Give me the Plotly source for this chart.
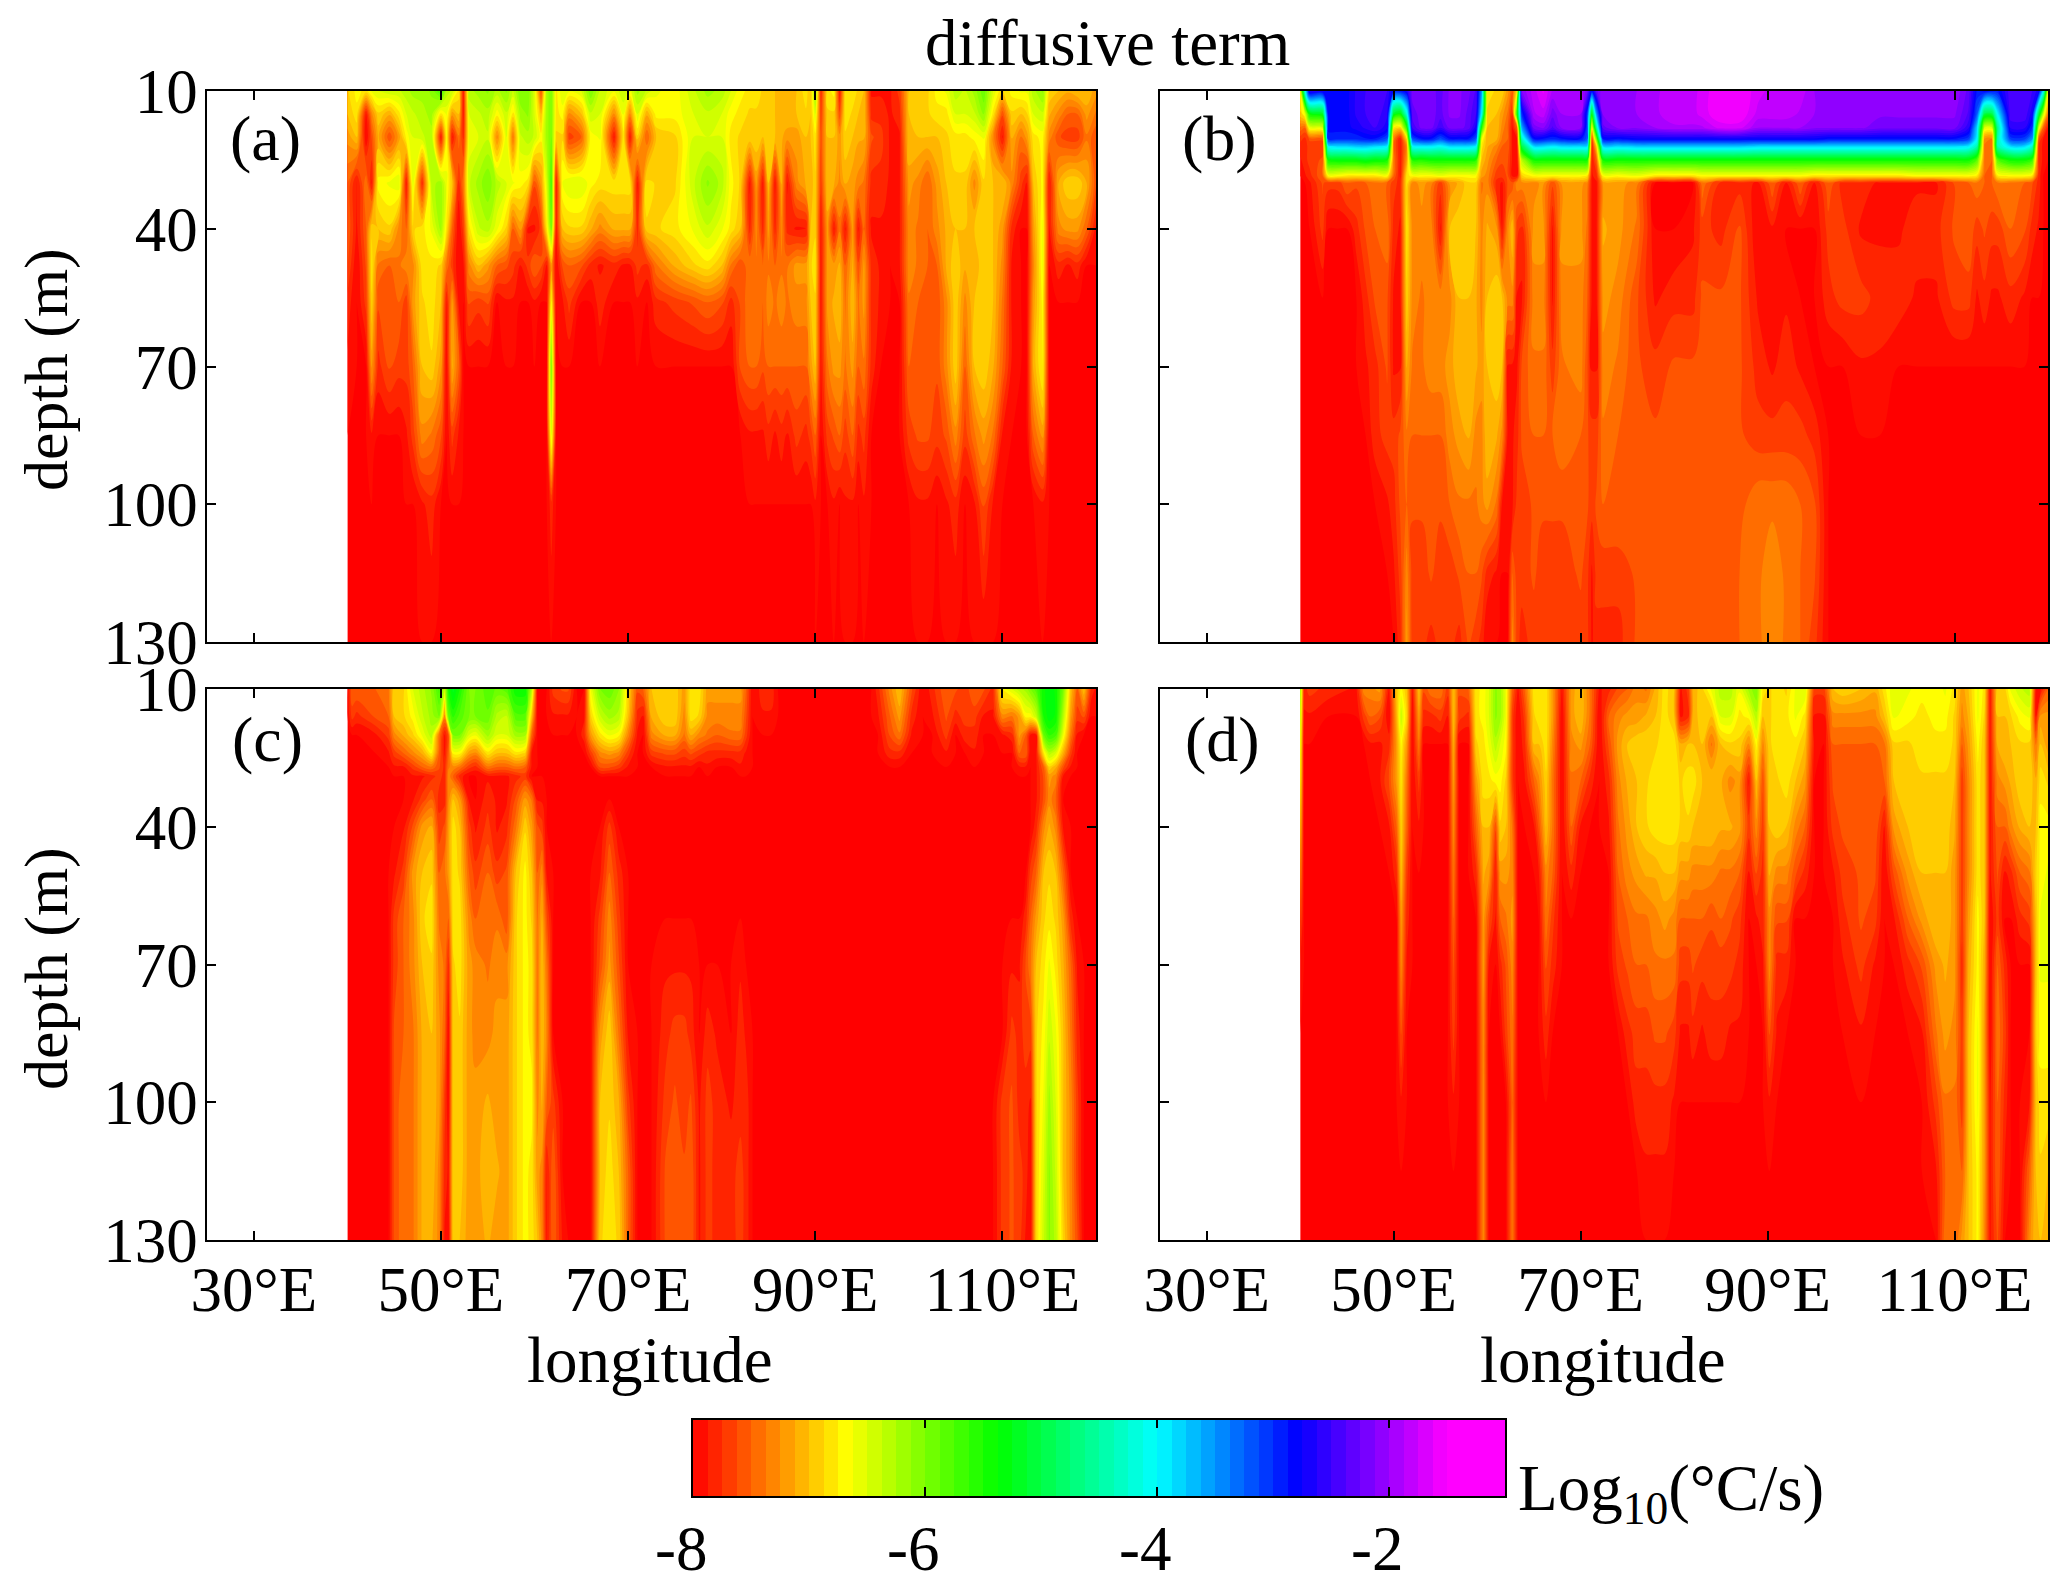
import plotly.graph_objects as go

W, H = 2067, 1584
OFF = 8  # the page body adds this much on the left and top

# level axes
lon_ticks = [30, 50, 70, 90, 110]
lon_labels = ["30°E", "50°E", "70°E", "90°E", "110°E"]
depth_ticks = [10, 40, 70, 100, 130]
cb_ticks = [-8, -6, -4, -2]
cb_levels = [-8 + 0.125 * (i + 0.5) for i in range(56)]

# panel (a): one profile per longitude
depth_a = [10, 15, 20, 30, 40, 48, 56, 70, 85, 100, 130]
lon_a = [40, 41, 42, 42.6, 43.3, 44.5, 45.5, 46.3, 47, 48, 49, 50, 50.6, 51.2, 51.9, 52.4, 53, 54, 55, 56,
         57, 57.7, 58.5, 59.3, 60, 60.7, 61.3, 61.8, 62.3, 63, 63.7, 65, 66, 67, 68.5, 69.5, 70.2, 71, 72, 73,
         75, 77, 78.5, 80, 81, 82, 83, 83.7, 84.4, 85, 85.7, 86.4, 87, 88, 89, 89.5, 90, 90.6, 91.3, 92,
         92.6, 93.2, 94, 94.6, 95.2, 96, 97, 98, 99, 100, 101, 102, 103, 104, 105, 106, 107, 108, 109, 110,
         111, 112, 112.6, 113.3, 114.3, 115, 116, 117, 118, 119, 120]
prof_a = [
    [-6.9, -7.0, -7.2, -7.5, -7.5, -7.6, -7.8, -7.9, -8, -8, -8],
    [-6.7, -6.8, -7.0, -7.9, -7.9, -8, -8, -8, -8, -8, -8],
    [-6.8, -7.9, -8, -7.4, -7.5, -7.6, -7.7, -8, -8, -8, -8],
    [-6.6, -7.3, -7.6, -7.9, -6.9, -6.8, -6.9, -7.2, -7.9, -8, -8],
    [-6.5, -6.9, -7.1, -6.7, -7.0, -7.4, -7.6, -7.8, -8, -8, -8],
    [-6.4, -7.1, -7.6, -6.6, -6.9, -7.5, -7.5, -7.6, -8, -8, -8],
    [-6.4, -6.8, -7.2, -6.5, -7.3, -7.4, -7.5, -7.7, -8, -8, -8],
    [-6.3, -6.5, -6.7, -7.9, -7.5, -7.3, -7.7, -7.7, -7.9, -8, -8],
    [-6.2, -6.4, -6.5, -6.5, -6.9, -7.3, -7.2, -7.5, -7.7, -8, -8],
    [-6.2, -6.3, -6.4, -7.8, -6.8, -6.8, -6.9, -7.0, -7.3, -7.9, -8],
    [-6.1, -6.2, -6.3, -6.3, -6.6, -6.8, -6.8, -6.9, -7.4, -7.8, -8],
    [-5.7, -6.8, -7.9, -6.2, -6.2, -6.9, -7.0, -7.2, -7.6, -8, -8],
    [-6.3, -6.6, -6.7, -6.6, -6.8, -7.4, -7.9, -8, -8, -8, -8],
    [-6.4, -7.2, -7.9, -7.0, -7.5, -7.7, -7.2, -7.1, -7.7, -8, -8],
    [-6.8, -7.0, -7.4, -7.8, -8, -8, -7.9, -7.5, -7.9, -8, -8],
    [-7.9, -7.9, -7.8, -7.4, -7.7, -7.9, -8, -8, -8, -8, -8],
    [-6.3, -6.5, -6.6, -6.4, -6.8, -7.3, -7.6, -8, -8, -8, -8],
    [-6.2, -6.4, -6.5, -6.2, -6.4, -7.0, -7.7, -8, -8, -8, -8],
    [-6.1, -6.3, -6.4, -6.0, -6.3, -7.2, -7.6, -8, -8, -8, -8],
    [-6.3, -6.7, -7.3, -6.3, -6.6, -7.5, -8, -8, -8, -8, -8],
    [-6.1, -6.4, -6.5, -6.5, -6.9, -7.6, -7.9, -8, -8, -8, -8],
    [-6.4, -6.8, -7.4, -6.6, -7.5, -7.7, -7.9, -8, -8, -8, -8],
    [-6.0, -6.2, -6.4, -6.7, -7.2, -7.9, -8, -8, -8, -8, -8],
    [-6.0, -6.1, -6.3, -6.8, -7.9, -7.7, -8, -8, -8, -8, -8],
    [-6.5, -6.5, -6.4, -7.6, -7.9, -7.5, -7.9, -8, -8, -8, -8],
    [-7.6, -7.0, -6.7, -7.2, -7.7, -7.6, -8, -8, -8, -8, -8],
    [-6.2, -6.2, -6.2, -6.5, -6.8, -7.9, -8, -8, -8, -8, -8],
    [-6.0, -6.0, -6.0, -5.7, -6.0, -7.2, -6.7, -6.0, -6.5, -7.8, -8],
    [-6.8, -6.8, -6.9, -7.9, -7.9, -8, -8, -8, -8, -8, -8],
    [-6.5, -6.7, -6.9, -6.6, -7.0, -7.6, -7.9, -8, -8, -8, -8],
    [-6.6, -7.3, -7.7, -6.5, -6.9, -7.5, -7.7, -8, -8, -8, -8],
    [-6.5, -7.0, -7.5, -6.5, -6.9, -7.6, -8, -8, -8, -8, -8],
    [-6.0, -6.4, -6.7, -6.7, -7.1, -7.8, -8, -8, -8, -8, -8],
    [-6.4, -6.5, -6.6, -6.8, -7.3, -7.9, -7.8, -8, -8, -8, -8],
    [-6.6, -7.3, -7.9, -6.8, -7.1, -7.8, -8, -8, -8, -8, -8],
    [-6.4, -6.6, -6.8, -6.8, -7.1, -7.9, -8, -8, -8, -8, -8],
    [-6.6, -7.3, -7.9, -6.8, -7.1, -7.9, -8, -8, -8, -8, -8],
    [-6.2, -6.5, -6.9, -7.9, -7.8, -7.7, -7.9, -8, -8, -8, -8],
    [-6.4, -7.1, -7.5, -6.8, -6.9, -7.8, -8, -8, -8, -8, -8],
    [-6.6, -6.7, -7.0, -6.9, -6.9, -7.4, -7.8, -8, -8, -8, -8],
    [-6.7, -6.7, -6.9, -6.9, -6.8, -7.1, -7.7, -8, -8, -8, -8],
    [-6.4, -6.5, -6.5, -6.4, -6.6, -6.9, -7.6, -8, -8, -8, -8],
    [-6.2, -6.4, -6.5, -6.1, -6.4, -6.8, -7.5, -8, -8, -8, -8],
    [-6.3, -6.5, -6.5, -6.3, -6.6, -7.0, -7.6, -8, -8, -8, -8],
    [-6.5, -6.7, -6.8, -6.7, -6.8, -7.4, -7.8, -8, -8, -8, -8],
    [-6.7, -6.8, -6.9, -6.9, -7.0, -7.6, -7.6, -7.6, -8, -8, -8],
    [-6.8, -6.9, -6.9, -7.9, -7.8, -7.4, -7.4, -7.5, -7.9, -8, -8],
    [-6.8, -6.9, -6.9, -7.2, -7.3, -7.4, -7.4, -7.5, -7.9, -8, -8],
    [-6.9, -6.9, -7.0, -7.9, -7.8, -7.5, -7.5, -7.6, -7.9, -8, -8],
    [-6.9, -6.9, -6.9, -7.0, -7.2, -7.4, -7.3, -7.5, -7.8, -8, -8],
    [-7.0, -7.0, -7.0, -7.9, -7.8, -7.5, -7.4, -7.5, -7.9, -8, -8],
    [-7.0, -7.0, -7.1, -7.1, -7.3, -7.4, -7.3, -7.5, -7.8, -8, -8],
    [-7.1, -7.0, -7.2, -7.9, -7.8, -7.4, -7.4, -7.5, -7.9, -8, -8],
    [-7.0, -7.0, -7.2, -7.3, -7.9, -7.2, -7.3, -7.5, -7.7, -8, -8],
    [-6.8, -6.9, -7.0, -7.1, -7.9, -7.2, -7.3, -7.5, -7.8, -8, -8],
    [-7.0, -7.0, -7.0, -7.1, -7.0, -6.9, -7.0, -7.2, -7.7, -8, -8],
    [-6.1, -6.5, -6.8, -6.9, -6.9, -6.8, -6.9, -7.0, -7.5, -7.9, -8],
    [-7.8, -7.7, -7.6, -7.7, -7.9, -7.9, -7.9, -7.9, -8, -8, -8],
    [-6.8, -6.9, -7.0, -7.0, -7.2, -7.2, -7.2, -7.4, -7.7, -8, -8],
    [-6.7, -6.9, -7.0, -7.1, -7.9, -7.2, -7.1, -7.2, -7.6, -7.9, -8],
    [-7.9, -7.6, -7.2, -7.3, -7.4, -7.1, -7.0, -7.2, -7.5, -8, -8],
    [-6.8, -6.8, -6.9, -7.1, -7.9, -7.5, -7.4, -7.4, -7.7, -7.9, -8],
    [-6.8, -6.9, -7.0, -7.2, -7.2, -7.1, -7.0, -7.2, -7.5, -7.9, -8],
    [-6.9, -7.0, -7.1, -7.3, -7.9, -7.6, -7.4, -7.5, -7.8, -8, -8],
    [-7.0, -7.0, -7.1, -7.4, -7.5, -7.2, -7.2, -7.4, -7.7, -7.9, -8],
    [-7.9, -7.8, -7.6, -7.8, -7.9, -7.8, -7.8, -7.8, -8, -8, -8],
    [-7.9, -7.8, -7.7, -7.8, -7.9, -7.9, -7.9, -8, -8, -8, -8],
    [-7.9, -7.9, -7.9, -7.9, -8, -8, -8, -8, -8, -8, -8],
    [-7.7, -7.8, -7.9, -7.9, -7.9, -7.9, -8, -8, -8, -8, -8],
    [-7.0, -7.0, -7.0, -7.2, -7.3, -7.3, -7.4, -7.5, -7.7, -8, -8],
    [-6.9, -6.9, -7.0, -7.3, -7.4, -7.4, -7.5, -7.6, -7.6, -7.9, -8],
    [-6.9, -6.9, -7.0, -7.5, -7.5, -7.5, -7.5, -7.6, -7.6, -7.9, -8],
    [-6.7, -6.8, -7.0, -7.2, -7.3, -7.5, -7.6, -7.6, -7.7, -8, -8],
    [-6.6, -6.8, -6.9, -7.0, -7.1, -7.1, -7.3, -7.3, -7.6, -7.9, -8],
    [-6.3, -6.5, -6.8, -6.9, -7.0, -6.9, -6.9, -6.9, -7.3, -7.8, -8],
    [-6.4, -6.5, -6.8, -6.9, -7.0, -7.1, -7.3, -7.5, -7.7, -8, -8],
    [-6.2, -6.4, -6.7, -7.3, -7.0, -7.1, -7.0, -7.0, -7.4, -7.9, -8],
    [-5.9, -6.1, -6.6, -6.9, -6.9, -6.9, -6.9, -6.9, -7.2, -7.6, -8],
    [-6.5, -6.8, -7.3, -7.0, -7.0, -7.0, -7.0, -7.1, -7.4, -7.9, -8],
    [-6.9, -7.6, -7.9, -7.0, -7.2, -7.3, -7.4, -7.5, -7.9, -8, -8],
    [-6.7, -6.9, -7.1, -7.3, -7.8, -7.9, -7.9, -7.9, -8, -8, -8],
    [-6.6, -7.0, -7.4, -7.7, -8, -8, -8, -8, -8, -8, -8],
    [-6.6, -6.9, -7.2, -7.9, -8, -8, -8, -8, -8, -8, -8],
    [-6.3, -6.5, -6.8, -7.0, -7.2, -7.3, -7.2, -7.1, -7.5, -8, -8],
    [-6.1, -6.4, -6.7, -6.7, -6.6, -6.6, -6.7, -6.7, -7.2, -7.9, -8],
    [-6.9, -7.1, -7.3, -7.9, -7.9, -8, -8, -8, -8, -8, -8],
    [-7.0, -7.3, -7.6, -7.1, -7.3, -7.8, -8, -8, -8, -8, -8],
    [-7.1, -7.5, -7.7, -6.9, -7.2, -7.9, -8, -8, -8, -8, -8],
    [-7.0, -7.5, -7.7, -6.9, -7.2, -7.8, -8, -8, -8, -8, -8],
    [-7.0, -7.2, -7.4, -7.1, -7.5, -8, -8, -8, -8, -8, -8],
    [-7.2, -7.4, -7.6, -7.6, -7.9, -8, -8, -8, -8, -8, -8],
]

# panel (b)
depth_b = [10, 15, 18, 20.5, 22, 25, 28.5, 30, 40, 55, 70, 85, 100, 115, 130]
lon_b = [40, 40.5, 41, 42.4, 43, 44, 45, 46, 47, 48, 49.3, 50, 50.7, 51.4, 52, 53, 54, 55, 56, 57,
         58, 58.8, 59.4, 60, 61, 61.6, 62.2, 62.7, 63.2, 63.7, 65, 66, 67, 68, 70, 70.7, 71.2, 71.7, 72.4, 74,
         76, 78, 80, 82, 83, 85, 87, 89, 90.5, 92, 93.5, 95, 96.5, 98, 100, 102, 104, 106, 108, 110,
         111.5, 112.4, 113.2, 114, 114.6, 116, 117.5, 118.3, 119, 119.5, 120]
prof_b = [
    [-6.7, -6.9, -7.4, -7.7, -7.8, -7.9, -8, -8, -8, -8, -8, -8, -8, -8, -8],
    [-4.2, -6.6, -7.5, -7.8, -7.8, -7.8, -7.9, -8, -8, -8, -8, -8, -8, -8, -8],
    [-2.6, -5.4, -6.6, -7.6, -7.7, -7.7, -7.8, -7.9, -8, -8, -8, -8, -8, -8, -8],
    [-2.7, -5.2, -6.5, -7.6, -7.7, -7.6, -7.5, -7.6, -7.7, -8, -8, -8, -8, -8, -8],
    [-2.8, -2.8, -2.8, -3.0, -3.9, -5.4, -6.7, -7.7, -8, -8, -8, -8, -8, -8, -8],
    [-2.8, -2.8, -2.8, -3.0, -3.8, -5.3, -6.7, -7.7, -8, -8, -8, -8, -8, -8, -8],
    [-2.8, -2.8, -2.8, -3.0, -3.8, -5.3, -6.8, -7.5, -8, -8, -8, -8, -8, -8, -8],
    [-2.6, -2.6, -2.7, -3.0, -3.7, -5.3, -6.8, -7.6, -7.8, -8, -8, -8, -8, -8, -8],
    [-2.5, -2.5, -2.6, -2.9, -3.7, -5.2, -6.8, -7.5, -7.6, -7.8, -7.9, -8, -8, -8, -8],
    [-2.4, -2.4, -2.5, -2.9, -3.8, -5.3, -6.8, -7.4, -7.5, -7.6, -7.8, -7.8, -8, -8, -8],
    [-2.5, -2.6, -2.7, -3.2, -3.9, -5.4, -6.7, -7.5, -7.4, -7.6, -7.6, -7.7, -7.9, -8, -8],
    [-2.9, -5.2, -6.8, -7.4, -7.5, -7.4, -7.5, -7.7, -7.8, -7.9, -7.9, -7.7, -7.8, -7.9, -8],
    [-2.9, -5.4, -6.9, -7.9, -7.9, -7.9, -7.9, -7.8, -7.9, -7.9, -7.9, -7.6, -7.6, -7.7, -7.8],
    [-2.7, -4.2, -5.6, -6.9, -7.3, -7.2, -6.8, -6.8, -6.8, -6.9, -7.1, -7.4, -7.5, -7.3, -7.2],
    [-2.2, -2.3, -2.5, -3.2, -4.0, -5.5, -6.7, -7.3, -7.3, -7.3, -7.4, -7.5, -7.6, -7.7, -7.7],
    [-2.2, -2.2, -2.2, -2.9, -3.9, -5.5, -6.7, -7.2, -7.3, -7.4, -7.4, -7.5, -7.6, -7.7, -7.7],
    [-2.2, -2.2, -2.2, -2.9, -3.9, -5.4, -6.7, -7.3, -7.3, -7.3, -7.3, -7.5, -7.6, -7.6, -7.8],
    [-2.3, -2.3, -2.5, -3.2, -4.0, -5.4, -6.6, -7.7, -7.9, -7.3, -7.3, -7.5, -7.6, -7.7, -7.7],
    [-2.1, -2.1, -2.2, -2.9, -3.8, -5.4, -6.7, -7.2, -7.0, -7.3, -7.2, -7.3, -7.5, -7.7, -7.7],
    [-2.1, -2.1, -2.2, -2.9, -3.8, -5.4, -6.7, -7.1, -6.9, -7.0, -7.0, -7.2, -7.4, -7.6, -7.8],
    [-2.2, -2.3, -2.3, -2.9, -3.8, -5.4, -6.7, -6.9, -6.9, -7.0, -7.0, -7.1, -7.4, -7.5, -7.6],
    [-2.4, -2.5, -2.7, -3.2, -3.9, -5.5, -6.7, -6.9, -7.0, -7.1, -7.1, -7.3, -7.4, -7.5, -7.7],
    [-3.5, -4.0, -5.5, -6.6, -6.8, -7.0, -7.2, -7.4, -7.3, -7.3, -7.2, -7.3, -7.3, -7.6, -7.8],
    [-6.8, -6.9, -7.0, -7.1, -7.1, -7.2, -7.3, -7.3, -7.1, -7.0, -7.0, -7.0, -7.2, -7.8, -8],
    [-6.9, -7.0, -7.0, -7.1, -7.3, -7.5, -7.7, -7.8, -7.2, -6.9, -6.9, -7.1, -7.4, -7.9, -8],
    [-6.9, -7.2, -7.3, -7.4, -7.5, -7.6, -7.7, -7.9, -7.9, -7.0, -7.0, -7.3, -7.9, -8, -8],
    [-7.2, -7.4, -7.5, -7.5, -7.5, -7.6, -7.6, -7.6, -7.3, -7.3, -7.9, -7.9, -7.9, -8, -8],
    [-7.5, -7.8, -7.9, -7.9, -7.9, -7.9, -7.9, -7.6, -7.0, -7.3, -7.9, -7.9, -7.9, -7.5, -7.3],
    [-6.8, -5.5, -7.5, -7.9, -8, -8, -7.9, -7.3, -7.7, -7.9, -7.9, -7.8, -7.7, -7.7, -7.7],
    [-2.1, -3.0, -3.6, -4.4, -5.0, -6.3, -6.9, -7.3, -7.8, -7.9, -7.6, -7.6, -7.7, -7.7, -7.8],
    [-1.8, -1.9, -2.2, -2.9, -3.8, -5.4, -6.7, -7.3, -7.2, -7.3, -7.4, -7.5, -7.6, -7.6, -7.7],
    [-1.6, -1.8, -2.1, -2.9, -3.8, -5.4, -6.7, -7.2, -7.2, -7.3, -7.4, -7.5, -7.6, -7.7, -7.7],
    [-1.9, -2.2, -2.4, -3.0, -3.9, -5.4, -6.7, -7.6, -7.9, -7.9, -7.7, -7.5, -7.6, -7.7, -7.7],
    [-1.9, -2.0, -2.1, -2.9, -3.8, -5.4, -6.7, -7.2, -7.2, -7.3, -7.4, -7.4, -7.6, -7.7, -7.7],
    [-1.9, -2.0, -2.1, -2.9, -3.8, -5.4, -6.7, -7.2, -7.2, -7.3, -7.3, -7.5, -7.6, -7.6, -7.7],
    [-2.2, -3.0, -3.1, -3.2, -3.8, -5.4, -6.8, -7.3, -7.4, -7.5, -7.6, -7.6, -7.6, -7.7, -7.7],
    [-2.9, -5.4, -6.8, -7.8, -7.9, -7.9, -7.9, -7.9, -7.9, -7.9, -7.9, -7.7, -7.7, -7.9, -7.9],
    [-2.3, -3.5, -4.5, -6.0, -6.9, -7.5, -7.8, -7.9, -7.9, -7.9, -7.9, -7.7, -7.6, -7.7, -7.8],
    [-2.0, -2.1, -2.3, -2.9, -3.8, -5.4, -6.7, -7.2, -7.1, -7.2, -7.3, -7.4, -7.5, -7.7, -7.8],
    [-2.0, -2.0, -2.1, -2.9, -3.8, -5.4, -6.7, -7.2, -7.2, -7.3, -7.4, -7.5, -7.5, -7.7, -7.8],
    [-2.0, -2.0, -2.1, -2.8, -3.7, -5.4, -6.6, -7.3, -7.4, -7.6, -7.6, -7.6, -7.6, -7.6, -7.6],
    [-1.9, -1.9, -2.0, -2.8, -3.7, -5.4, -6.8, -8, -8, -7.9, -7.7, -7.6, -7.6, -7.6, -7.6],
    [-1.8, -1.8, -1.9, -2.8, -3.7, -5.4, -6.8, -8, -8, -7.8, -7.6, -7.6, -7.6, -7.6, -7.6],
    [-1.8, -1.8, -1.9, -2.8, -3.7, -5.4, -6.8, -8, -7.9, -7.8, -7.6, -7.6, -7.6, -7.6, -7.6],
    [-1.7, -1.7, -1.9, -2.8, -3.7, -5.4, -6.7, -7.4, -7.7, -7.6, -7.6, -7.6, -7.6, -7.6, -7.6],
    [-1.5, -1.5, -1.7, -2.8, -3.7, -5.4, -6.7, -7.8, -7.8, -7.6, -7.6, -7.6, -7.6, -7.6, -7.6],
    [-1.5, -1.5, -1.7, -2.8, -3.7, -5.4, -6.7, -7.8, -7.6, -7.6, -7.6, -7.6, -7.55, -7.5, -7.5],
    [-1.7, -1.8, -2.0, -2.8, -3.8, -5.4, -6.7, -7.9, -8, -7.9, -7.8, -7.7, -7.4, -7.4, -7.4],
    [-1.8, -1.8, -2.0, -2.8, -3.8, -5.4, -6.7, -7.5, -7.9, -8, -7.9, -7.7, -7.4, -7.3, -7.3],
    [-1.8, -1.8, -2.0, -2.8, -3.8, -5.4, -6.7, -7.9, -8, -7.9, -7.8, -7.7, -7.4, -7.4, -7.4],
    [-1.8, -1.9, -2.0, -2.8, -3.8, -5.4, -6.7, -7.5, -8, -8, -7.9, -7.7, -7.5, -7.5, -7.5],
    [-2.0, -2.0, -2.1, -2.8, -3.8, -5.4, -6.8, -7.9, -8, -8, -8, -7.8, -7.6, -7.6, -7.7],
    [-2.0, -2.0, -2.1, -2.9, -3.8, -5.4, -6.8, -7.5, -7.7, -7.8, -8, -8, -8, -8, -8],
    [-2.0, -2.0, -2.1, -2.9, -3.8, -5.4, -6.8, -7.8, -7.7, -7.7, -8, -8, -8, -8, -8],
    [-2.0, -2.0, -2.1, -2.9, -3.8, -5.4, -6.8, -7.8, -7.9, -7.7, -7.9, -8, -8, -8, -8],
    [-2.1, -2.1, -2.2, -2.9, -3.8, -5.4, -6.8, -7.9, -7.9, -7.8, -7.9, -8, -8, -8, -8],
    [-2.1, -2.1, -2.2, -2.9, -3.8, -5.4, -6.8, -7.9, -7.9, -7.8, -8, -8, -8, -8, -8],
    [-2.1, -2.1, -2.2, -2.9, -3.8, -5.4, -6.7, -7.9, -7.8, -7.9, -8, -8, -8, -8, -8],
    [-2.1, -2.1, -2.2, -2.9, -3.8, -5.4, -6.7, -7.9, -7.8, -7.9, -8, -8, -8, -8, -8],
    [-2.0, -2.1, -2.2, -2.9, -3.8, -5.4, -6.7, -7.6, -7.6, -7.7, -8, -8, -8, -8, -8],
    [-2.3, -2.4, -2.6, -3.1, -3.9, -5.4, -6.7, -7.5, -7.5, -7.7, -8, -8, -8, -8, -8],
    [-2.9, -3.2, -3.8, -4.0, -4.4, -5.8, -6.8, -7.4, -7.7, -7.9, -8, -8, -8, -8, -8],
    [-2.8, -5.0, -6.5, -7.3, -7.4, -7.4, -7.5, -7.5, -7.6, -7.8, -8, -8, -8, -8, -8],
    [-2.9, -5.0, -6.5, -7.4, -7.5, -7.5, -7.5, -7.5, -7.7, -7.9, -8, -8, -8, -8, -8],
    [-2.9, -4.0, -4.6, -4.4, -4.4, -5.8, -6.8, -7.4, -7.7, -7.9, -8, -8, -8, -8, -8],
    [-2.4, -2.4, -2.6, -3.1, -3.8, -5.4, -6.7, -7.4, -7.5, -7.8, -8, -8, -8, -8, -8],
    [-2.4, -2.4, -2.6, -3.1, -3.8, -5.4, -6.7, -7.5, -7.6, -7.9, -8, -8, -8, -8, -8],
    [-2.5, -2.7, -3.0, -3.5, -4.2, -5.6, -6.8, -7.6, -7.8, -8, -8, -8, -8, -8, -8],
    [-2.7, -5.0, -6.5, -7.6, -7.8, -7.8, -7.8, -7.8, -7.9, -8, -8, -8, -8, -8, -8],
    [-4.0, -6.4, -7.5, -7.9, -7.9, -7.9, -8, -8, -8, -8, -8, -8, -8, -8, -8],
    [-6.6, -7.4, -7.9, -8, -8, -8, -8, -8, -8, -8, -8, -8, -8, -8, -8],
]

# panel (c)
depth_c = [10, 16, 20, 24, 27, 29, 34, 40, 50, 60, 70, 85, 100, 115, 130]
lon_c = [40, 40.5, 41, 43, 44.4, 45, 46, 47, 48, 49, 49.8, 50.4, 50.8, 51.3, 52, 53, 53.7, 55, 56, 57,
         58, 59, 59.7, 60.3, 60.8, 61.3, 62, 63, 63.6, 64.5, 65.3, 66, 67, 68, 69, 70, 71, 71.6, 72.5, 74,
         75, 76, 76.7, 77.6, 78.5, 79.5, 81, 82, 82.6, 83.3, 84.4, 85.3, 86, 96, 96.7, 98, 99, 100.3, 101.5, 102.5,
         104, 105, 106, 107, 108, 109, 110, 111, 111.8, 112.5, 113, 113.6, 114.4, 115, 115.7, 116.5, 117.3, 118, 118.7, 119.5, 120]
prof_c = [
    [-8, -8, -8, -8, -8, -8, -8, -8, -8, -8, -8, -8, -8, -8, -8],
    [-7.5, -7.7, -8, -8, -8, -8, -8, -8, -8, -8, -8, -8, -8, -8, -8],
    [-7.5, -7.8, -8, -8, -8, -8, -8, -8, -8, -8, -8, -8, -8, -8, -8],
    [-7.5, -7.6, -7.9, -8, -8, -8, -8, -8, -8, -8, -8, -8, -8, -8, -8],
    [-7.4, -7.5, -7.7, -7.9, -8, -8, -8, -8, -8, -8, -8, -8, -8, -8, -8],
    [-6.9, -7.0, -7.3, -7.7, -7.9, -8, -8, -8, -7.9, -7.7, -7.7, -7.6, -7.6, -7.6, -7.6],
    [-6.9, -6.9, -7.1, -7.5, -7.9, -8, -8, -7.9, -7.7, -7.5, -7.5, -7.5, -7.4, -7.4, -7.4],
    [-6.5, -6.7, -6.9, -7.3, -7.7, -7.9, -7.9, -7.6, -7.2, -7.3, -7.3, -7.4, -7.4, -7.4, -7.4],
    [-6.3, -6.4, -6.6, -7.1, -7.5, -7.9, -7.7, -7.2, -7.0, -6.9, -7.0, -7.1, -7.1, -7.1, -7.1],
    [-6.1, -6.2, -6.3, -6.7, -7.4, -7.8, -7.5, -7.1, -6.9, -6.8, -6.9, -7.0, -7.0, -7.0, -7.1],
    [-5.7, -6.0, -7.4, -7.5, -7.6, -7.7, -7.8, -7.7, -7.5, -7.4, -7.3, -7.2, -7.2, -7.3, -7.3],
    [-6.4, -7.3, -7.9, -7.9, -7.8, -7.8, -7.8, -7.6, -7.4, -7.4, -7.4, -7.5, -7.7, -7.8, -7.9],
    [-5.5, -5.9, -7.6, -7.5, -7.4, -7.3, -7.3, -7.2, -7.2, -7.5, -7.8, -8, -8, -7.9, -8],
    [-5.2, -5.6, -6.0, -6.7, -7.3, -7.5, -7.0, -6.8, -6.8, -6.8, -6.9, -6.9, -6.9, -6.9, -6.9],
    [-5.5, -5.8, -6.0, -6.7, -7.4, -7.8, -7.2, -7.0, -6.9, -6.8, -6.8, -6.9, -6.9, -6.9, -7.0],
    [-6.0, -6.0, -6.5, -7.2, -7.7, -8, -7.9, -7.7, -7.5, -7.3, -7.2, -7.2, -7.2, -7.2, -7.2],
    [-6.0, -6.0, -6.6, -7.3, -7.8, -8, -8, -7.9, -7.7, -7.5, -7.3, -7.3, -7.2, -7.2, -7.2],
    [-5.8, -5.9, -6.2, -6.8, -7.4, -7.9, -7.8, -7.7, -7.5, -7.4, -7.4, -7.3, -7.1, -7.0, -7.1],
    [-5.9, -6.3, -6.5, -7.0, -7.5, -7.9, -7.9, -7.9, -7.7, -7.4, -7.3, -7.2, -7.2, -7.1, -7.2],
    [-5.8, -6.4, -6.5, -7.0, -7.5, -7.9, -7.9, -7.8, -7.6, -7.6, -7.3, -7.2, -7.2, -7.2, -7.2],
    [-5.4, -5.8, -6.2, -6.8, -7.4, -7.8, -7.6, -7.4, -7.0, -6.9, -6.9, -6.9, -6.9, -6.9, -6.9],
    [-5.4, -5.8, -6.2, -6.9, -7.5, -7.7, -7.2, -6.9, -6.7, -6.7, -6.7, -6.7, -6.7, -6.7, -6.7],
    [-6.3, -7.0, -7.5, -7.9, -7.9, -8, -7.4, -7.2, -7.0, -6.9, -6.8, -6.8, -6.7, -6.8, -6.8],
    [-8, -8, -8, -8, -8, -8, -7.9, -7.6, -7.5, -7.4, -7.4, -7.4, -7.3, -7.2, -7.0],
    [-8, -8, -8, -8, -8, -8, -7.9, -7.7, -7.3, -7.1, -7.0, -7.0, -7.1, -7.3, -7.3],
    [-8, -8, -8, -8, -8, -8, -8, -8, -7.9, -7.6, -7.4, -7.3, -7.5, -7.9, -7.9],
    [-7.7, -7.9, -8, -8, -8, -8, -8, -8, -8, -8, -8, -8, -7.7, -7.5, -7.5],
    [-7.6, -7.9, -8, -8, -8, -8, -8, -8, -8, -8, -8, -8, -8, -8, -7.9],
    [-7.6, -7.9, -8, -8, -8, -8, -8, -8, -8, -8, -8, -8, -8, -8, -8],
    [-8, -8, -8, -8, -8, -8, -8, -8, -8, -8, -8, -8, -8, -8, -8],
    [-8, -7.9, -7.8, -8, -8, -8, -8, -8, -8, -8, -8, -8, -8, -8, -8],
    [-6.6, -6.9, -7.2, -7.7, -8, -8, -8, -8, -8, -8, -8, -8, -8, -8, -8],
    [-6.0, -6.4, -6.8, -7.3, -7.6, -8, -8, -8, -7.9, -7.7, -7.6, -7.2, -7.0, -7.0, -6.9],
    [-5.9, -6.2, -6.6, -7.2, -7.6, -8, -8, -7.7, -7.5, -7.3, -7.2, -6.9, -6.9, -6.8, -6.8],
    [-6.1, -6.3, -6.7, -7.3, -7.7, -8, -8, -8, -7.8, -7.7, -7.6, -7.4, -7.1, -7.0, -6.9],
    [-6.9, -7.0, -7.3, -7.7, -7.9, -8, -8, -8, -8, -8, -8, -7.9, -7.7, -7.5, -7.5],
    [-7.6, -7.8, -7.9, -8, -8, -8, -8, -8, -8, -8, -8, -8, -8, -8, -8],
    [-7.5, -7.9, -8, -8, -8, -8, -8, -8, -8, -8, -8, -8, -8, -8, -8],
    [-7.0, -7.1, -7.3, -7.7, -8, -8, -8, -8, -8, -8, -8, -8, -8, -8, -8],
    [-6.9, -6.9, -7.1, -7.6, -7.9, -8, -8, -8, -8, -8, -7.9, -7.8, -7.7, -7.6, -7.6],
    [-6.9, -6.9, -7.1, -7.6, -7.9, -8, -8, -8, -8, -8, -7.9, -7.7, -7.6, -7.5, -7.5],
    [-7.2, -7.3, -7.4, -7.7, -7.9, -8, -8, -8, -8, -8, -7.9, -7.7, -7.7, -7.6, -7.6],
    [-6.8, -6.8, -7.1, -7.6, -7.9, -8, -8, -8, -8, -8, -7.9, -7.8, -7.6, -7.5, -7.5],
    [-6.8, -6.9, -7.3, -7.7, -8, -8, -8, -8, -8, -8, -8, -8, -7.9, -7.9, -7.9],
    [-7.2, -7.3, -7.4, -7.8, -7.9, -8, -8, -8, -8, -8, -8, -7.8, -7.7, -7.7, -7.7],
    [-7.2, -7.3, -7.5, -7.8, -8, -8, -8, -8, -8, -8, -8, -7.9, -7.8, -7.8, -7.8],
    [-7.2, -7.3, -7.4, -7.8, -8, -8, -8, -8, -8, -8, -8, -8, -7.9, -7.8, -7.8],
    [-7.2, -7.3, -7.4, -7.8, -7.9, -8, -8, -8, -8, -8, -7.9, -7.8, -7.8, -7.7, -7.7],
    [-7.5, -7.6, -7.7, -7.9, -7.9, -8, -8, -8, -8, -8, -8, -7.9, -7.8, -7.8, -7.8],
    [-8, -8, -8, -8, -8, -8, -8, -8, -8, -8, -8, -8, -8, -8, -8],
    [-7.8, -7.9, -8, -8, -8, -8, -8, -8, -8, -8, -8, -8, -8, -8, -8],
    [-7.8, -7.9, -8, -8, -8, -8, -8, -8, -8, -8, -8, -8, -8, -8, -8],
    [-8, -8, -8, -8, -8, -8, -8, -8, -8, -8, -8, -8, -8, -8, -8],
    [-8, -8, -8, -8, -8, -8, -8, -8, -8, -8, -8, -8, -8, -8, -8],
    [-7.8, -7.9, -8, -8, -8, -8, -8, -8, -8, -8, -8, -8, -8, -8, -8],
    [-7.3, -7.5, -7.6, -7.8, -8, -8, -8, -8, -8, -8, -8, -8, -8, -8, -8],
    [-7.0, -7.2, -7.4, -7.8, -8, -8, -8, -8, -8, -8, -8, -8, -8, -8, -8],
    [-7.6, -7.8, -7.9, -8, -8, -8, -8, -8, -8, -8, -8, -8, -8, -8, -8],
    [-8, -8, -8, -8, -8, -8, -8, -8, -8, -8, -8, -8, -8, -8, -8],
    [-7.8, -7.9, -8, -8, -8, -8, -8, -8, -8, -8, -8, -8, -8, -8, -8],
    [-7.5, -7.6, -7.7, -7.9, -8, -8, -8, -8, -8, -8, -8, -8, -8, -8, -8],
    [-7.6, -7.8, -8, -8, -8, -8, -8, -8, -8, -8, -8, -8, -8, -8, -8],
    [-7.7, -7.7, -7.8, -8, -8, -8, -8, -8, -8, -8, -8, -8, -8, -8, -8],
    [-7.5, -7.7, -7.8, -7.9, -8, -8, -8, -8, -8, -8, -8, -8, -8, -8, -8],
    [-7.6, -7.9, -8, -8, -8, -8, -8, -8, -8, -8, -8, -8, -8, -8, -8],
    [-7.8, -7.9, -8, -8, -8, -8, -8, -8, -8, -8, -8, -8, -8, -8, -8],
    [-6.7, -7.3, -7.9, -8, -8, -8, -8, -8, -8, -8, -8, -8, -7.7, -7.7, -7.7],
    [-6.5, -7.4, -7.8, -8, -8, -8, -8, -8, -8, -8, -7.9, -7.7, -7.6, -7.6, -7.6],
    [-6.3, -7.2, -7.2, -7.5, -7.9, -8, -8, -8, -8, -8, -7.9, -7.8, -7.8, -7.7, -7.7],
    [-6.2, -6.7, -7.5, -7.5, -7.9, -8, -8, -8, -8, -7.8, -7.6, -7.7, -7.8, -7.8, -7.9],
    [-6.0, -6.7, -7.9, -8, -8, -8, -8, -8, -7.7, -7.5, -7.4, -7.7, -7.9, -8, -8],
    [-5.8, -6.4, -7.9, -7.9, -7.9, -7.9, -7.9, -7.8, -7.5, -7.2, -7.0, -6.9, -6.9, -6.9, -6.9],
    [-5.4, -5.5, -5.9, -6.8, -7.5, -7.6, -7.6, -7.3, -7.0, -6.9, -6.8, -6.7, -6.6, -6.5, -6.4],
    [-5.3, -5.3, -5.6, -6.3, -6.9, -7.2, -7.3, -7.1, -6.9, -6.8, -6.6, -6.4, -6.2, -6.1, -6.1],
    [-5.4, -5.4, -5.7, -6.5, -7.1, -7.3, -7.5, -7.3, -7.0, -6.9, -6.8, -6.6, -6.5, -6.4, -6.3],
    [-6.0, -6.3, -6.6, -7.1, -7.6, -7.9, -8, -7.9, -7.5, -7.2, -7.1, -7.0, -7.0, -7.0, -6.9],
    [-7.0, -7.2, -7.4, -7.7, -7.9, -8, -8, -8, -8, -7.8, -7.5, -7.4, -7.3, -7.3, -7.3],
    [-7.5, -7.7, -7.9, -8, -8, -8, -8, -8, -8, -8, -7.9, -7.8, -7.7, -7.7, -7.6],
    [-7.0, -7.6, -8, -8, -8, -8, -8, -8, -8, -8, -8, -8, -8, -8, -8],
    [-7.8, -8, -8, -8, -8, -8, -8, -8, -8, -8, -8, -8, -8, -8, -8],
    [-7.9, -8, -8, -8, -8, -8, -8, -8, -8, -8, -8, -8, -8, -8, -8],
]

# panel (d)
depth_d = [10, 16, 22, 30, 40, 50, 60, 70, 85, 100, 115, 130]
lon_d = [40, 40.4, 41, 43, 46, 46.8, 47.5, 48.5, 49.5, 50.3, 50.8, 51.4, 52, 52.7, 53.2, 54, 55, 55.8, 56.4, 57,
         58, 58.8, 59.6, 60.2, 60.9, 61.4, 62, 62.7, 63.3, 64, 65, 65.5, 66.3, 67, 68, 69, 70, 71, 72, 73,
         74, 75, 76, 77, 78, 79, 80, 80.7, 81.5, 82, 83, 84, 85, 86, 87, 88, 88.8, 89.5, 90.2, 91,
         92, 93, 94, 95, 96, 97, 98, 100, 101.5, 102.5, 103.5, 105, 106.5, 108, 109, 110, 110.8, 111.5, 112.5, 113.2,
         113.8, 114.6, 115.4, 116, 117, 118, 118.7, 119.2, 120]
prof_d = [
    [-6.1, -6.3, -6.5, -6.7, -7.0, -7.3, -7.6, -7.9, -8, -8, -8, -8],
    [-7.8, -7.9, -8, -8, -8, -8, -8, -8, -8, -8, -8, -8],
    [-7.7, -7.9, -8, -8, -8, -8, -8, -8, -8, -8, -8, -8],
    [-7.8, -8, -8, -8, -8, -8, -8, -8, -8, -8, -8, -8],
    [-7.9, -8, -8, -8, -8, -8, -8, -8, -8, -8, -8, -8],
    [-7.3, -7.7, -8, -8, -8, -8, -8, -8, -8, -8, -8, -8],
    [-7.3, -7.5, -7.9, -8, -8, -8, -8, -8, -8, -8, -8, -8],
    [-7.2, -7.6, -7.9, -7.9, -8, -8, -8, -8, -8, -8, -8, -8],
    [-7.9, -8, -7.8, -7.6, -7.9, -8, -8, -8, -8, -8, -8, -8],
    [-7.0, -7.1, -7.2, -7.2, -7.5, -7.8, -8, -8, -8, -8, -8, -8],
    [-6.7, -6.4, -6.7, -6.8, -6.9, -7.0, -7.2, -7.3, -7.6, -7.9, -8, -8],
    [-7.0, -6.9, -7.2, -7.4, -7.5, -7.7, -7.8, -7.9, -8, -8, -8, -8],
    [-7.9, -8, -8, -8, -8, -8, -8, -8, -8, -8, -8, -8],
    [-7.0, -7.2, -7.4, -7.7, -7.9, -8, -8, -8, -8, -8, -8, -8],
    [-7.6, -7.8, -8, -8, -8, -8, -8, -8, -8, -8, -8, -8],
    [-7.4, -7.8, -8, -8, -8, -8, -8, -8, -8, -8, -8, -8],
    [-7.4, -7.7, -8, -8, -8, -8, -8, -8, -8, -8, -8, -8],
    [-7.7, -7.9, -8, -8, -8, -8, -8, -8, -8, -8, -8, -8],
    [-7.0, -7.0, -7.1, -7.2, -7.3, -7.4, -7.5, -7.6, -7.7, -7.9, -8, -8],
    [-7.6, -7.7, -8, -8, -8, -8, -8, -8, -8, -8, -8, -8],
    [-7.5, -7.8, -8, -8, -8, -8, -8, -8, -8, -8, -8, -8],
    [-6.8, -6.8, -6.9, -7.2, -7.5, -7.8, -8, -8, -8, -8, -8, -8],
    [-6.7, -6.7, -6.8, -6.8, -7.0, -7.1, -7.2, -7.2, -7.3, -7.3, -7.3, -7.3],
    [-6.5, -6.5, -6.6, -6.8, -7.0, -7.2, -7.6, -7.9, -8, -8, -8, -8],
    [-6.1, -6.1, -6.3, -6.7, -7.6, -7.9, -7.9, -8, -8, -8, -8, -8],
    [-6.2, -6.2, -6.5, -6.7, -6.9, -7.2, -7.5, -7.8, -8, -8, -8, -8],
    [-6.6, -6.6, -6.7, -6.9, -7.0, -7.2, -7.4, -7.6, -7.7, -8, -8, -8],
    [-7.5, -7.7, -7.7, -7.7, -7.4, -7.3, -7.2, -7.3, -7.4, -7.5, -7.4, -7.4],
    [-7.9, -8, -8, -8, -8, -8, -8, -8, -8, -8, -8, -8],
    [-7.5, -7.7, -7.8, -7.9, -8, -8, -8, -8, -8, -8, -8, -8],
    [-6.8, -6.9, -7.0, -7.5, -7.9, -8, -8, -8, -8, -8, -8, -8],
    [-6.8, -6.8, -7.0, -7.3, -7.6, -7.9, -8, -8, -8, -8, -8, -8],
    [-6.8, -6.8, -6.8, -6.9, -7.0, -7.3, -7.4, -7.6, -7.8, -8, -8, -8],
    [-7.2, -7.2, -7.3, -7.4, -7.4, -7.5, -7.7, -7.8, -8, -8, -8, -8],
    [-7.9, -8, -8, -8, -8, -8, -8, -8, -8, -8, -8, -8],
    [-7.2, -7.2, -7.3, -7.4, -7.5, -7.8, -8, -8, -8, -8, -8, -8],
    [-7.0, -7.0, -7.2, -7.5, -7.9, -8, -8, -8, -8, -8, -8, -8],
    [-7.4, -7.4, -7.5, -7.8, -8, -8, -8, -8, -8, -8, -8, -8],
    [-7.9, -8, -8, -8, -8, -8, -8, -8, -8, -8, -8, -8],
    [-7.8, -7.5, -7.6, -7.8, -7.9, -8, -8, -8, -8, -8, -8, -8],
    [-7.6, -7.3, -7.2, -7.3, -7.4, -7.5, -7.6, -7.7, -8, -8, -8, -8],
    [-7.5, -7.2, -7.0, -7.1, -7.2, -7.3, -7.5, -7.6, -7.8, -8, -8, -8],
    [-7.3, -7.2, -6.9, -7.0, -7.0, -7.2, -7.4, -7.5, -7.7, -7.8, -8, -8],
    [-7.4, -7.1, -6.9, -6.9, -6.9, -7.1, -7.4, -7.5, -7.7, -7.8, -7.9, -8],
    [-7.1, -7.0, -6.9, -6.8, -6.8, -7.1, -7.3, -7.4, -7.6, -7.8, -7.9, -8],
    [-6.8, -6.8, -6.8, -6.8, -6.8, -7.0, -7.2, -7.4, -7.6, -7.8, -7.9, -8],
    [-7.0, -7.0, -6.8, -6.8, -6.8, -7.0, -7.3, -7.4, -7.7, -7.9, -8, -8],
    [-7.9, -7.9, -7.1, -6.9, -6.9, -7.2, -7.5, -7.7, -7.9, -8, -8, -8],
    [-7.7, -7.8, -7.0, -6.8, -6.9, -7.2, -7.5, -7.7, -7.9, -8, -8, -8],
    [-7.1, -7.1, -7.0, -6.8, -7.0, -7.3, -7.5, -7.6, -7.8, -8, -8, -8],
    [-6.9, -6.9, -7.0, -7.0, -7.0, -7.3, -7.5, -7.7, -7.9, -8, -8, -8],
    [-6.6, -7.0, -7.4, -7.0, -7.0, -7.3, -7.6, -7.7, -7.8, -8, -8, -8],
    [-6.3, -6.5, -7.0, -7.1, -7.1, -7.4, -7.5, -7.7, -7.8, -8, -8, -8],
    [-6.3, -6.5, -6.9, -7.3, -7.1, -7.4, -7.6, -7.7, -7.9, -8, -8, -8],
    [-6.6, -6.8, -6.9, -7.2, -7.2, -7.5, -7.7, -7.8, -7.9, -8, -8, -8],
    [-6.2, -6.7, -7.3, -7.9, -7.7, -7.9, -8, -8, -8, -8, -8, -8],
    [-6.0, -6.3, -6.7, -7.0, -7.3, -7.6, -7.9, -8, -8, -8, -8, -8],
    [-6.8, -7.0, -7.3, -7.6, -7.7, -7.8, -7.8, -7.9, -8, -8, -8, -8],
    [-6.9, -6.9, -6.9, -6.9, -7.0, -7.1, -7.3, -7.3, -7.6, -7.9, -8, -8],
    [-6.8, -6.8, -6.8, -6.9, -6.9, -7.3, -7.6, -7.8, -7.9, -8, -8, -8],
    [-6.9, -6.8, -6.8, -6.8, -7.0, -7.3, -7.6, -7.8, -8, -8, -8, -8],
    [-6.6, -6.6, -6.8, -7.0, -7.3, -7.6, -8, -8, -8, -8, -8, -8],
    [-6.5, -6.8, -7.0, -7.2, -7.5, -7.8, -8, -8, -8, -8, -8, -8],
    [-7.7, -7.9, -7.9, -8, -8, -8, -8, -8, -8, -8, -8, -8],
    [-7.7, -7.9, -8, -8, -8, -8, -8, -8, -8, -8, -8, -8],
    [-7.0, -7.3, -7.5, -7.6, -7.7, -7.9, -8, -8, -8, -8, -8, -8],
    [-6.9, -7.3, -7.5, -7.5, -7.6, -7.7, -7.8, -7.9, -8, -8, -8, -8],
    [-7.0, -7.3, -7.5, -7.6, -7.5, -7.6, -7.6, -7.7, -7.9, -8, -8, -8],
    [-7.1, -7.3, -7.5, -7.5, -7.5, -7.6, -7.7, -7.9, -8, -8, -8, -8],
    [-6.8, -7.0, -7.4, -7.5, -7.9, -8, -8, -8, -8, -8, -8, -8],
    [-6.5, -6.6, -6.9, -7.0, -7.2, -7.6, -7.9, -8, -8, -8, -8, -8],
    [-6.6, -6.7, -6.9, -6.9, -7.0, -7.2, -7.5, -7.8, -8, -8, -8, -8],
    [-6.7, -6.8, -6.8, -6.9, -6.9, -7.0, -7.2, -7.6, -7.9, -8, -8, -8],
    [-6.7, -6.7, -6.8, -6.9, -6.9, -7.0, -7.0, -7.2, -7.4, -7.7, -7.9, -8],
    [-6.6, -6.7, -6.8, -6.9, -6.9, -7.0, -7.0, -7.1, -7.2, -7.4, -7.5, -7.4],
    [-6.8, -6.9, -6.9, -7.0, -7.1, -7.2, -7.2, -7.2, -7.3, -7.4, -7.4, -7.5],
    [-7.2, -7.3, -7.5, -7.7, -7.7, -7.7, -7.7, -7.8, -7.7, -7.7, -7.5, -7.2],
    [-7.0, -7.1, -7.2, -7.3, -7.3, -7.3, -7.2, -7.1, -7.0, -7.0, -7.0, -7.0],
    [-6.6, -6.6, -6.7, -6.8, -6.8, -6.8, -6.7, -6.7, -6.6, -6.6, -6.7, -6.7],
    [-6.8, -6.9, -7.0, -7.0, -7.0, -7.0, -7.0, -7.1, -7.2, -7.2, -7.2, -7.3],
    [-7.9, -7.9, -7.9, -7.9, -7.9, -7.9, -8, -8, -8, -7.9, -7.9, -7.9],
    [-6.9, -7.0, -7.1, -7.3, -7.5, -7.6, -7.7, -7.5, -7.4, -7.5, -7.5, -7.6],
    [-6.9, -7.0, -7.0, -7.2, -7.5, -7.9, -8, -7.8, -7.7, -7.8, -7.9, -8],
    [-6.6, -6.9, -7.0, -7.1, -7.3, -7.8, -8, -8, -8, -8, -8, -8],
    [-6.4, -6.7, -6.9, -6.9, -7.1, -7.5, -7.8, -8, -8, -8, -8, -8],
    [-6.3, -6.6, -6.9, -6.9, -7.0, -7.4, -7.7, -8, -8, -7.9, -7.5, -7.3],
    [-7.9, -7.9, -7.4, -7.1, -7.0, -6.9, -7.0, -7.0, -6.9, -7.0, -7.0, -7.0],
    [-7.9, -7.2, -7.0, -6.8, -6.7, -6.7, -6.6, -6.6, -6.7, -6.8, -6.9, -7.0],
    [-7.5, -7.2, -7.2, -6.9, -6.7, -6.6, -6.6, -6.6, -6.7, -6.8, -7.0, -7.1],
]


def colorscale_stops():
    # hue wheel, from -8 to -1
    return [[0, "#ff0000"], [0.1886, "#ffff00"], [0.376, "#00ff00"], [0.571, "#00ffff"],
            [0.743, "#0000ff"], [0.929, "#ff00ff"], [1, "#ff00ff"]]


def fx(px):
    return (px - OFF) / W


def fy(py):
    return 1 - (py - OFF) / H


SERIF = "Liberation Serif"
FS = 63

# panel frames in pixels: left, right, top, bottom
panels = {
    "a": (207, 1096, 91, 642),
    "b": (1160, 2048, 91, 642),
    "c": (207, 1096, 689, 1240),
    "d": (1160, 2048, 689, 1240),
}
data = {
    "a": (lon_a, depth_a, prof_a),
    "b": (lon_b, depth_b, prof_b),
    "c": (lon_c, depth_c, prof_c),
    "d": (lon_d, depth_d, prof_d),
}

fig = go.Figure()
for i, (k, (l, r, t, b)) in enumerate(panels.items(), start=1):
    lo, de, pr = data[k]
    xa, ya = f"xaxis{i}", f"yaxis{i}"
    fig.add_trace(go.Contour(
        x=lo, y=de, z=[list(row) for row in zip(*pr)],
        xaxis=f"x{i}", yaxis=f"y{i}",
        colorscale=colorscale_stops(), zmin=-8, zmax=-1, showscale=False,
        autocontour=False,
        contours=dict(start=-8, end=-1, size=0.125, coloring="fill", showlines=False),
        line=dict(width=0),
    ))
    fig.update_layout(**{
        xa: dict(domain=[fx(l), fx(r)], range=[25, 120], anchor=f"y{i}", tickvals=lon_ticks,
                 ticktext=lon_labels, showticklabels=k in "cd", ticks="inside", ticklen=9, tickcolor="black",
                 tickwidth=1.5, showline=True, linecolor="black", linewidth=1.5, mirror="allticks",
                 showgrid=False, zeroline=False, ticklabelstandoff=-6,
                 tickfont=dict(family=SERIF, size=FS, color="black")),
        ya: dict(domain=[fy(b), fy(t)], range=[130, 10], anchor=f"x{i}", tickvals=depth_ticks,
                 showticklabels=k in "ac", ticks="inside", ticklen=9, tickcolor="black",
                 tickwidth=1.5, showline=True, linecolor="black", linewidth=1.5, mirror="allticks",
                 showgrid=False, zeroline=False, ticklabelstandoff=-5,
                 tickfont=dict(family=SERIF, size=FS, color="black")),
    })

# colour bar drawn as its own little axes
fig.add_trace(go.Heatmap(x=cb_levels, y=[0], z=[cb_levels], xaxis="x5", yaxis="y5",
                         colorscale=colorscale_stops(), zmin=-8, zmax=-1, showscale=False))
fig.update_layout(
    xaxis5=dict(domain=[fx(693), fx(1505)], range=[-8, -1], anchor="y5", tickvals=cb_ticks, ticks="inside",
                ticklen=9, tickcolor="black", tickwidth=1.5, showline=True, linecolor="black", linewidth=1.5,
                mirror="allticks", showgrid=False, zeroline=False, showticklabels=False),
    yaxis5=dict(domain=[fy(1496), fy(1419.5)], range=[-0.5, 0.5], anchor="x5", showticklabels=False,
                ticks="", showline=True, linecolor="black", linewidth=1.5, mirror=True, showgrid=False,
                zeroline=False),
)


def note(text, px, py, size=FS, angle=0, anchor="center"):
    fig.add_annotation(text=text, xref="paper", yref="paper", x=fx(px), y=fy(py), showarrow=False,
                       textangle=angle, xanchor=anchor, yanchor="middle",
                       font=dict(family=SERIF, size=size, color="black"))


note("diffusive term", 1107, 43, 65)
note("(a)", 265, 138, 64)
note("(b)", 1219, 138, 64)
note("(c)", 267, 739, 64)
note("(d)", 1222, 739, 64)
note("depth (m)", 46, 370, 62, -90)
note("depth (m)", 46, 969, 62, -90)
note("longitude", 650, 1360, 65)
note("longitude", 1603, 1360, 65)
note("Log<sub>10</sub>(°C/s)", 1516, 1493, 65, anchor="left")

# colour bar labels sit a little left of their ticks
for v in cb_ticks:
    fig.add_annotation(text=str(v), xref="x5", yref="paper", x=v, y=fy(1549), xshift=-12, showarrow=False,
                       xanchor="center", yanchor="middle", font=dict(family=SERIF, size=FS, color="black"))

fig.update_layout(template="none", width=W, height=H, margin=dict(l=0, r=0, t=0, b=0), paper_bgcolor="white",
                  plot_bgcolor="white", showlegend=False)
fig.write_html("out.html")
